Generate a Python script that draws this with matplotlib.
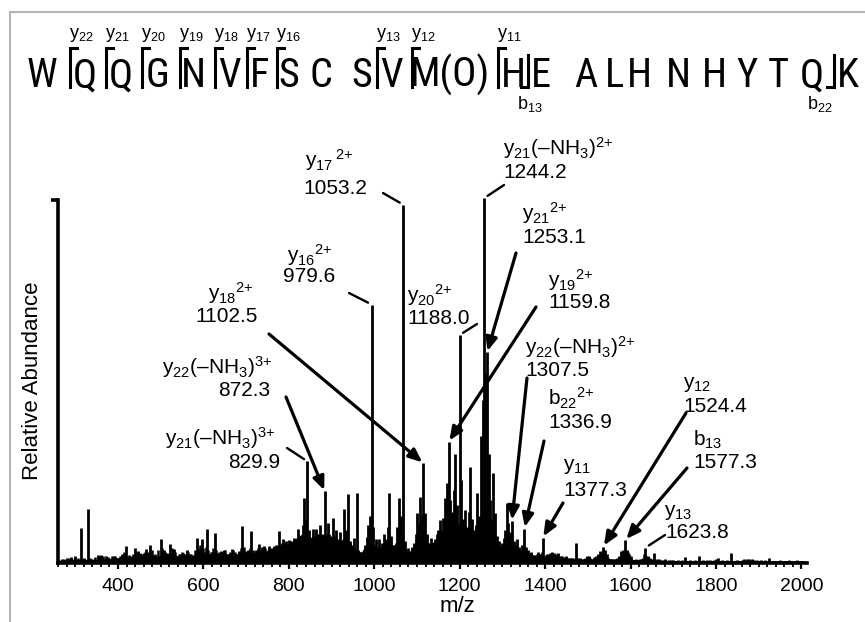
import matplotlib
matplotlib.use('Agg')
import matplotlib.pyplot as plt
from matplotlib import font_manager
from matplotlib.patches import Rectangle
from matplotlib.lines import Line2D
from matplotlib.ticker import MultipleLocator

# ---------------- data ----------------
peak_mz = [268, 280, 290, 300, 313, 320, 329, 340, 352, 360, 372, 380, 390, 398, 410,
           419, 426, 432, 440, 447, 454, 460, 466, 475, 482, 490, 500, 507, 515, 522, 530,
           538, 546, 553, 561, 568, 576, 584, 590, 596, 602, 608, 614, 620, 627, 633, 640,
           647, 654, 660, 666, 672, 678, 684, 691, 698, 705, 712, 718, 724, 729, 736, 742,
           748, 754, 760, 766, 772, 778, 783, 787, 793, 800, 806, 812, 817, 822, 828, 832,
           836, 840, 843.5, 848, 852, 856, 860, 864, 868, 872, 877, 884, 888, 891, 895, 898,
           902.5, 907, 911, 915, 920, 924, 929, 934, 939.5, 944, 948, 953, 959, 963, 968,
           973, 978, 982, 986, 990, 994, 998, 1003, 1008, 1012, 1017, 1022, 1027, 1031,
           1035.5, 1040, 1045, 1050, 1054, 1057, 1062, 1068, 1073, 1078, 1083, 1088, 1093,
           1097, 1100, 1104, 1107, 1111, 1115, 1119, 1124, 1128, 1133, 1138, 1142, 1146,
           1150, 1154, 1158, 1162, 1166, 1170, 1174, 1178, 1182, 1186, 1190, 1194, 1199.5,
           1204, 1208, 1213, 1217, 1221, 1224.5, 1229, 1233, 1237, 1241, 1245, 1250, 1254,
           1257, 1260, 1264, 1268, 1272, 1276, 1279, 1283, 1287, 1291, 1295, 1299, 1303,
           1307, 1310, 1314, 1318, 1322, 1326, 1330, 1334, 1338, 1342, 1346, 1351.5, 1355,
           1360, 1364, 1368, 1372, 1378, 1384, 1389, 1394, 1400, 1405, 1410, 1415, 1420,
           1425, 1430, 1436, 1442, 1448, 1455, 1462, 1472, 1478, 1485, 1490, 1497, 1503,
           1510, 1518, 1524, 1529, 1536, 1540, 1544, 1548, 1552, 1558, 1565, 1572, 1577,
           1582, 1588, 1592, 1597, 1602, 1608, 1615, 1622, 1628, 1634.5, 1640, 1646,
           1655.5, 1662, 1670, 1680, 1690, 1700, 1712, 1728, 1740, 1759, 1770, 1785, 1800,
           1805, 1815, 1836, 1850, 1866, 1872, 1878, 1884, 1890, 1905, 1923, 1940, 1960,
           1980, 2000]
peak_int = [1.0, 1.5, 1.6, 2.0, 9.7, 1.5, 14.8, 1.0, 2.2, 2.2, 2.0, 1.2, 2.0, 1.0, 2.5,
            4.7, 2.2, 2.0, 4.2, 3.3, 2.5, 2.8, 3.8, 5.0, 2.3, 2.0, 6.5, 3.5, 2.8, 5.2, 3.8,
            2.0, 2.5, 2.8, 3.6, 2.5, 2.0, 7.0, 3.0, 6.5, 3.0, 9.3, 2.5, 3.0, 8.2, 2.8, 3.2,
            3.5, 2.5, 2.0, 3.8, 2.5, 2.0, 3.3, 10.2, 3.2, 3.5, 8.8, 2.2, 3.5, 5.1, 4.5, 4.8,
            3.2, 4.6, 3.5, 4.8, 4.5, 8.8, 5.5, 6.5, 6.0, 6.3, 6.0, 7.0, 6.5, 9.3, 7.0, 10.5,
            17.8, 12.0, 28.0, 9.0, 7.0, 9.3, 6.5, 9.3, 8.0, 10.5, 7.5, 19.7, 8.0, 10.9, 8.0, 6.5,
            12.5, 7.5, 9.0, 6.5, 8.5, 6.0, 14.8, 9.0, 18.9, 6.0, 5.0, 7.0, 19.2, 3.5, 2.5,
            3.0, 5.0, 7.3, 10.5, 13.0, 71.2, 10.0, 6.5, 4.5, 6.5, 5.5, 8.0, 6.5, 10.0,
            19.4, 7.5, 4.5, 5.5, 10.0, 18.0, 13.0, 98.7, 6.0, 4.0, 3.0, 4.5, 5.5,
            8.0, 13.7, 11.0, 18.3, 13.0, 27.5, 13.7, 8.0, 5.5, 7.0, 5.5, 6.5, 8.0,
            9.0, 11.8, 9.0, 12.5, 17.8, 22.0, 33.4, 17.4, 14.0, 20.0, 30.0, 16.0, 62.8,
            22.9, 12.0, 14.6, 10.0, 14.0, 26.5, 12.0, 9.0, 10.5, 19.2, 13.0, 35.0, 45.0,
            100.5, 52.0, 58.0, 30.0, 17.4, 12.0, 24.7, 13.7, 7.5, 6.0, 4.5, 5.5, 7.0,
            9.0, 16.4, 11.0, 8.5, 11.5, 6.0, 5.0, 6.5, 4.5, 3.5, 5.0, 9.5, 4.5,
            3.5, 2.5, 3.0, 2.0, 2.0, 3.0, 2.5, 7.0, 1.5, 2.5, 2.2, 3.0, 2.8,
            2.5, 2.8, 2.0, 1.5, 1.8, 1.5, 1.5, 5.6, 1.5, 1.2, 1.0, 1.8, 2.0,
            1.2, 1.8, 2.5, 3.2, 4.5, 3.5, 2.5, 1.5, 1.0, 0.8, 1.0, 2.0, 3.2,
            3.5, 6.3, 3.5, 2.5, 1.5, 0.8, 0.8, 1.0, 1.5, 4.2, 2.0, 1.5,
            2.8, 1.0, 0.8, 1.0, 0.8, 0.8, 0.8, 1.6, 0.8, 1.9, 0.8, 0.8, 1.0,
            1.4, 0.8, 2.8, 0.8, 1.0, 1.0, 1.2, 1.0, 0.8, 0.8, 1.5, 0.6, 0.6,
            0.6, 0.6]

# smaller sticks filling the noise between the peaks above
minor_mz = [274, 285, 295, 306, 335, 346, 356, 366, 376, 385, 394, 404, 414, 436, 443,
            451, 457, 463, 470, 479, 486, 494, 503, 511, 518, 526, 534, 542, 550, 557,
            564, 572, 580, 587, 593, 599, 605, 611, 617, 623, 630, 637, 644, 650, 657,
            663, 669, 675, 681, 687, 694, 701, 708, 715, 721, 727, 733, 739, 745, 751,
            757, 763, 769, 775, 781, 790, 797, 803, 809, 815, 819, 825, 1335, 1348, 1357,
            1362, 1366, 1370, 1375, 1381, 1387, 1392, 1397, 1402, 1407, 1412, 1417, 1422,
            1427, 1433, 1439, 1445, 1451, 1458, 1466, 1482, 1494, 1500, 1506, 1514, 1521,
            1532, 1569, 1580, 1585, 1595, 1600, 1612, 1625, 1631, 1637, 1650, 1666, 1675,
            1695, 1720, 1750, 1780, 1795, 1825, 1860, 1895, 1915, 1950, 1970, 1990]
minor_int = [1.2, 1.3, 1.2, 1.5, 1.3, 1.6, 1.8, 1.8, 1.6, 1.8, 2.0, 2.0, 3.0, 2.5, 3.0,
             2.8, 2.4, 3.0, 3.0, 3.5, 2.5, 3.5, 4.0, 3.0, 2.5, 4.0, 3.0, 2.5, 3.0, 2.5,
             3.0, 2.5, 3.5, 4.0, 5.0, 4.0, 4.5, 3.5, 3.0, 4.0, 3.5, 3.0, 3.0, 3.5, 2.5,
             3.0, 3.5, 3.0, 2.5, 4.0, 4.5, 3.0, 4.0, 3.5, 3.0, 4.0, 3.5, 4.0, 4.0, 3.5,
             4.0, 4.0, 5.0, 5.0, 5.0, 5.5, 5.0, 6.0, 5.5, 6.0, 7.0, 6.5, 3.5, 4.0, 3.0,
             2.5, 2.8, 2.2, 2.0, 2.5, 2.4, 3.0, 2.0, 2.2, 2.5, 2.8, 2.5, 2.2,
             2.6, 2.0, 1.8, 1.6, 1.5, 1.4, 1.5, 1.4, 1.3, 1.6, 1.5, 1.6, 2.0,
             3.0, 1.5, 2.5, 3.0, 3.0, 2.0, 1.0, 1.2, 2.5, 1.8, 1.0, 1.0, 0.9,
             0.9, 0.9, 0.9, 0.9, 0.9, 0.9, 0.9, 0.9, 0.9, 0.8, 0.8, 0.8]

floor_mz = [260, 300, 350, 400, 450, 500, 550, 600, 650, 700, 750, 780, 790, 800, 810,
            820, 830, 840, 850, 860, 870, 880, 890, 900, 910, 920, 930, 940, 950, 960,
            970, 980, 990, 1000, 1010, 1020, 1030, 1040, 1050, 1060, 1070, 1080, 1090,
            1100, 1110, 1120, 1130, 1140, 1150, 1160, 1170, 1180, 1190, 1200, 1210, 1220,
            1230, 1240, 1250, 1260, 1270, 1280, 1290, 1300, 1310, 1320, 1330, 1340, 1350,
            1360, 1400, 1450, 1500, 1550, 1600, 1700, 1800, 1900, 2010]
floor_int = [0.8, 1.0, 1.0, 1.5, 1.8, 2.0, 2.0, 2.4, 2.4, 2.6, 3.2, 4.0, 5.0, 5.5, 6.0,
             7.0, 8.0, 9.0, 7.0, 7.5, 8.0, 8.0, 7.0, 7.5, 6.5, 6.0, 7.0, 6.0, 4.5, 3.5,
             3.0, 5.0, 7.0, 5.0, 4.0, 5.0, 6.0, 5.0, 5.0, 6.0, 4.0, 3.0, 4.0,
             7.0, 8.0, 7.0, 5.0, 6.0, 7.0, 8.0, 10.0, 9.0, 10.0, 11.0, 9.0, 10.0,
             8.0, 10.0, 14.0, 16.0, 11.0, 9.0, 5.0, 4.5, 6.0, 5.0, 4.0, 3.0, 3.0,
             2.5, 1.8, 1.2, 1.1, 1.2, 1.0, 0.7, 0.7, 0.7, 0.6]

# annotated ions: name, m/z text, annotated peak (m/z, intensity), connector style
ion_names = [r'y_{17}\,{}^{2{+}}', r'y_{16}{}^{2{+}}', r'y_{18}{}^{2{+}}',
             r'y_{22}(–NH_3)^{3{+}}', r'y_{21}(–NH_3)^{3{+}}', r'y_{20}{}^{2{+}}',
             r'y_{21}(–NH_3)^{2{+}}', r'y_{21}{}^{2{+}}', r'y_{19}{}^{2{+}}',
             r'y_{22}(–NH_3)^{2{+}}', r'b_{22}{}^{2{+}}', r'y_{11}', r'y_{12}',
             r'b_{13}', r'y_{13}']
ion_mz_text = ['1053.2', '979.6', '1102.5', '872.3', '829.9', '1188.0', '1244.2', '1253.1',
               '1159.8', '1307.5', '1336.9', '1377.3', '1524.4', '1577.3', '1623.8']
ion_peak_mz = [1068, 994, 1115, 884, 843.5, 1199.5, 1257, 1264, 1174, 1322, 1351.5, 1394,
               1536, 1588, 1634.5]
ion_peak_int = [98.7, 71.2, 27.5, 19.7, 28.0, 62.8, 100.5, 58.0, 33.4, 11.5, 9.5, 7.0,
                4.5, 6.3, 4.2]
ion_style = ['leader', 'leader', 'arrow', 'arrow', 'leader', 'leader', 'leader', 'arrow',
             'arrow', 'arrow', 'arrow', 'arrow', 'arrow', 'arrow', 'leader']

# peptide sequence
seq_residues = ['W', 'Q', 'Q', 'G', 'N', 'V', 'F', 'S', 'C', 'S', 'V', 'M(O)', 'H', 'E',
                'A', 'L', 'H', 'N', 'H', 'Y', 'T', 'Q', 'K']
y_ion_numbers = ['22', '21', '20', '19', '18', '17', '16', '13', '12', '11']
b_ion_numbers = ['13', '22']

x_ticks = [400, 600, 800, 1000, 1200, 1400, 1600, 1800, 2000]

# ---------------- layout (pixels) ----------------
W, H = 865, 622
residue_x = [42, 85, 121, 157, 193, 229, 260, 289, 321, 362, 391, 449.5, 513, 541, 586,
             614, 639, 678, 714, 747, 778, 812, 848]
y_bracket_x = [70, 106, 142, 180, 215, 247, 277, 377, 412, 498]
b_bracket_x = [528, 834]
b_label_x = [530, 820]

# label layout: (name left x, name y, value left x, value y, tail x, tail y)
ion_layout = [
    (305, 160, 303, 188, 383, 193),
    (287, 255, 283, 277, 349, 293),
    (208, 293, 195, 317, 269, 334),
    (162, 367, 218, 390, 286, 397),
    (165, 438, 228, 462, 287, 448),
    (407, 295, 407, 318, 477, 324),
    (503, 148, 503, 172, 504, 185),
    (522, 213, 522, 237, 516, 253),
    (548, 280, 548, 303, 536, 307),
    (525, 347, 525, 370, 527, 378),
    (548, 398, 548, 422, 544, 441),
    (563, 467, 563, 490, 563, 503),
    (683, 385, 683, 406, 686, 413),
    (693, 440, 693, 463, 687, 468),
    (664, 512, 665, 533, 665, 535),
]

names = {f.name for f in font_manager.fontManager.ttflist}
BASE = 'Liberation Sans' if 'Liberation Sans' in names else 'DejaVu Sans'
NARROW = BASE
for cand in ['Liberation Sans Narrow', 'Arial Narrow', 'Roboto Condensed',
             'Noto Sans Condensed', 'Open Sans Condensed', 'Noto Sans SemiCondensed']:
    if cand in names:
        NARROW = cand
        break

plt.rcParams['font.family'] = [BASE, 'DejaVu Sans']
plt.rcParams['mathtext.fontset'] = 'custom'
plt.rcParams['mathtext.rm'] = BASE
plt.rcParams['mathtext.it'] = BASE + ':italic'
plt.rcParams['mathtext.bf'] = BASE + ':bold'


def fx(x):
    return x / W


def fy(y):
    return 1 - y / H


fig = plt.figure(figsize=(W / 100, H / 100), dpi=100)
fig.patch.set_facecolor('white')

# grey frame (left and top edges visible)
fig.add_artist(Rectangle((fx(10), -0.1), 1.2, fy(12) + 0.1, fill=False,
                         ec='#b4b4b4', lw=1.5, transform=fig.transFigure))

# ---------------- main axes ----------------
ax = fig.add_axes([fx(58), (H - 563) / H, (807 - 58) / W, (563 - 200) / H])
ax.set_xlim(259.5, 2013)
ax.set_ylim(0, 100)
ax.fill_between(floor_mz, 0, floor_int, color='black', lw=0)
ax.vlines(minor_mz, 0, minor_int, color='black', lw=1.8)
ax.vlines(peak_mz, 0, peak_int, color='black', lw=2.0, clip_on=False)

for s in ['top', 'right']:
    ax.spines[s].set_visible(False)
for s in ['left', 'bottom']:
    ax.spines[s].set_linewidth(2.6)

ax.set_xticks(x_ticks)
ax.xaxis.set_minor_locator(MultipleLocator(20))
ax.tick_params(axis='x', which='major', length=4, width=1.6, labelsize=14, pad=7)
ax.tick_params(axis='x', which='minor', length=3, width=1.3)
ax.set_yticks([100])
ax.set_yticklabels([])
ax.tick_params(axis='y', which='major', length=5, width=2.6)

ax.set_xlabel('m/z', fontsize=16)
ax.xaxis.set_label_coords((457 - 58) / (807 - 58), (563 - 607) / (563 - 200))
ax.xaxis.label.set_va('center')
ax.set_ylabel('Relative Abundance', fontsize=16)
ax.yaxis.set_label_coords((33 - 58) / (807 - 58), (563 - 381) / (563 - 200))
ax.yaxis.label.set_va('center')

# annotations
for name, val, pm, pi, st, lay in zip(ion_names, ion_mz_text, ion_peak_mz, ion_peak_int,
                                       ion_style, ion_layout):
    nx, ny, vx, vy, tx, ty = lay
    fig.text(fx(nx), fy(ny), r'$\mathregular{' + name + '}$', fontsize=15,
             ha='left', va='center')
    fig.text(fx(vx), fy(vy), val, fontsize=15, ha='left', va='center')
    if st == 'arrow':
        props = dict(arrowstyle='-|>,head_length=0.8,head_width=0.34', lw=2.3,
                     color='black', shrinkA=0, shrinkB=1, mutation_scale=10)
    else:
        props = dict(arrowstyle='-', lw=1.7, color='black', shrinkA=0, shrinkB=3)
    ax.annotate('', xy=(pm, pi), xycoords='data', xytext=(tx, H - ty),
                textcoords='figure pixels', arrowprops=props, annotation_clip=False)

# ---------------- peptide sequence ----------------
seq_size = 29 if NARROW != BASE else 26.5
for res, x in zip(seq_residues, residue_x):
    fig.text(fx(x), fy(87), res, fontsize=seq_size, family=[NARROW, BASE],
             ha='center', va='baseline')

for num, x in zip(y_ion_numbers, y_bracket_x):
    fig.add_artist(Line2D([fx(x), fx(x), fx(x + 7)], [fy(87), fy(48), fy(48)],
                          color='black', lw=2.2, transform=fig.transFigure,
                          solid_joinstyle='miter'))
    fig.text(fx(x - 1), fy(35), r'$\mathregular{y_{' + num + '}}$', fontsize=13,
             ha='left', va='center')

for num, x, lx in zip(b_ion_numbers, b_bracket_x, b_label_x):
    fig.add_artist(Line2D([fx(x - 7), fx(x), fx(x)], [fy(87), fy(87), fy(55)],
                          color='black', lw=2.2, transform=fig.transFigure,
                          solid_joinstyle='miter'))
    fig.text(fx(lx), fy(104), r'$\mathregular{b_{' + num + '}}$', fontsize=13,
             ha='center', va='center')

fig.savefig('out.png', dpi=100)
